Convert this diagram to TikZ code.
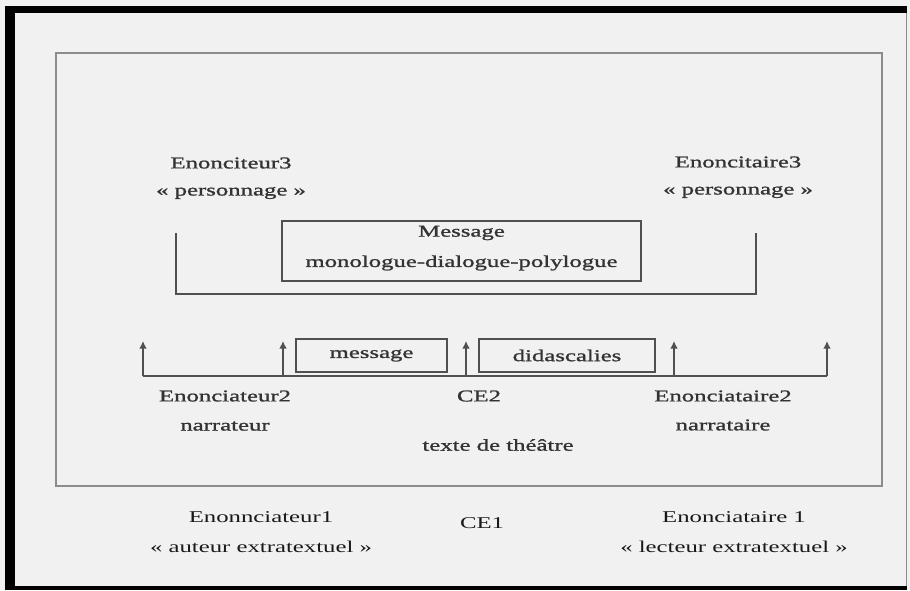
\documentclass[tikz,border=0pt]{standalone}
\usepackage{fontspec}
\setmainfont{Liberation Serif}[FakeStretch=1.5,FakeBold=1.2]
\newfontfamily\plainface{Liberation Serif}[FakeStretch=1.5]
\usetikzlibrary{arrows.meta}
\definecolor{paper}{HTML}{F1F1F1}
\definecolor{frameGray}{HTML}{8C8C8C}
\definecolor{inkGray}{HTML}{505050}

\begin{document}
\begin{tikzpicture}
[x=1pt,y=-1pt,
  txt/.style={inner sep=0pt,font=\fontsize{16.5}{30}\selectfont,text=black!80,align=center},%
  outerTxt/.style={txt,font=\plainface\fontsize{16.5}{30}\selectfont,text=black!90},%
  msgBox/.style={draw=inkGray,line width=1.3pt,inner sep=0pt},%
  darkLine/.style={draw=inkGray,line width=1.3pt},%
  upArrow/.style={darkLine,-{Latex[length=7.5pt,width=7.5pt]}}]
%% paper and frames
\fill[paper] (0,0) rectangle (910,590);
\fill[black] (5,6) rectangle (907,13);
\fill[black] (5,6) rectangle (15,590);
\fill[black] (5,586) rectangle (907,590);
\draw[frameGray,line width=1pt] (906,13) -- (906,586);
\draw[frameGray,line width=1.5pt] (56,53) rectangle (882,486);
%% level 3
\node (enonc3) at (231,163) [txt] {Enonciteur3};
\node (perso3) at (231,193) [txt] {« personnage »};
\node (enoncit3) at (738,162) [txt] {Enoncitaire3};
\node (persoit3) at (738,192) [txt] {« personnage »};
\node (message3) at (461.5,251) [msgBox,minimum width=359pt,minimum height=60pt] {};
\node (msgTitle) at (461.5,233) [txt] {Message};
\node (msgKinds) at (461.5,263) [txt] {monologue-dialogue-polylogue};
\coordinate (brLtop) at (176,233);
\coordinate (brLbot) at (176,294);
\coordinate (brRbot) at (756,294);
\coordinate (brRtop) at (756,233);
\draw[darkLine] (brLtop) -- (brLbot) -- (brRbot) -- (brRtop);
%% level 2
\foreach \name/\x in {a/143, b/283, c/466, d/674, e/827}
{
  \coordinate (base\name) at (\x,376);
  \coordinate (tip\name) at (\x,341);
}
\draw[darkLine] (basea) -- (basee);
\foreach \name in {a,b,c,d,e}
{
  \draw[upArrow] (base\name) -- (tip\name);
}
\node (message2) at (371.5,355.5) [msgBox,minimum width=151pt,minimum height=33pt] {};
\node at (message2) [txt] {message};
\node (didasc) at (567,355.5) [msgBox,minimum width=176pt,minimum height=33pt] {};
\node at (didasc) [txt] {didascalies};
\node (enonc2) at (225,396) [txt] {Enonciateur2};
\node (narrat) at (225,426) [txt] {narrateur};
\node (ce2) at (479,396) [txt] {CE2};
\node (theatre) at (498,445) [txt] {texte de théâtre};
\node (enoncit2) at (723,396) [txt] {Enonciataire2};
\node (narrataire) at (723,425) [txt] {narrataire};
%% level 1
\node (enonc1) at (261,517) [outerTxt] {Enonnciateur1};
\node (auteur) at (261,547) [outerTxt] {« auteur extratextuel »};
\node (ce1) at (482,523) [outerTxt] {CE1};
\node (enoncit1) at (734,517) [outerTxt] {Enonciataire 1};
\node (lecteur) at (734,547) [outerTxt] {« lecteur extratextuel »};
\end{tikzpicture}
\end{document}
